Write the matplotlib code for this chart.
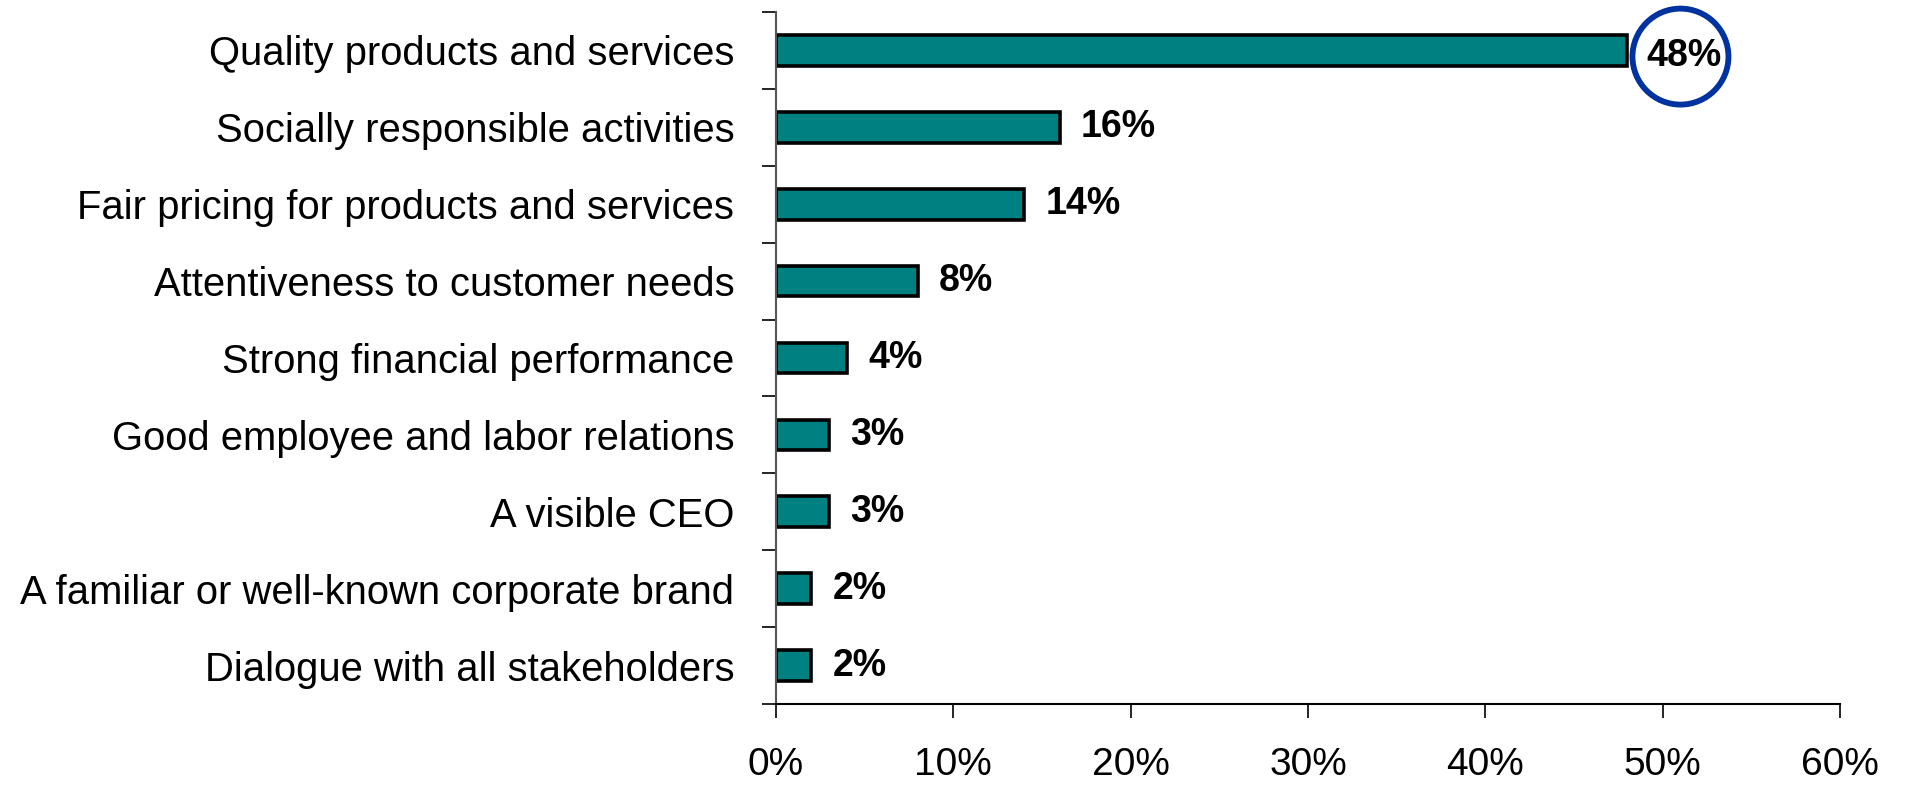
import matplotlib.pyplot as plt
from matplotlib.patches import Ellipse
import numpy as np

plt.rcParams['font.family'] = ['Liberation Sans', 'DejaVu Sans']

categories = [
    "Quality products and services",
    "Socially responsible activities",
    "Fair pricing for products and services",
    "Attentiveness to customer needs",
    "Strong financial performance",
    "Good employee and labor relations",
    "A visible CEO",
    "A familiar or well-known corporate brand",
    "Dialogue with all stakeholders",
]
values = [48, 16, 14, 8, 4, 3, 3, 2, 2]
xticks = [0, 10, 20, 30, 40, 50, 60]

fig = plt.figure(figsize=(19.08, 7.85), dpi=100)
ax = fig.add_axes([0.4067, 0.1032, 0.5577, 0.8815])

y = np.arange(len(categories))[::-1]
ax.barh(y, values, height=0.40, color='#008080', edgecolor='black', linewidth=2.6)

ax.set_xlim(0, 60)
ax.set_ylim(-0.5, len(categories) - 0.5)

# value labels; the top one sits inside a ring
for yi, v in zip(y, values):
    if v == max(values):
        ax.text(51.2, yi - 0.07, f"{v}%", ha='center', va='center', fontsize=27, fontweight='bold')
    else:
        ax.text(v + 1.2, yi, f"{v}%", ha='left', va='center', fontsize=27, fontweight='bold')

# ring drawn in pixel-true proportions
px_per_x = ax.get_position().width * fig.get_figwidth() * fig.dpi / 60
px_per_y = ax.get_position().height * fig.get_figheight() * fig.dpi / len(categories)
r = 48
ring = Ellipse((51.0, y[0] - 0.08), 2 * r / px_per_x, 2 * r / px_per_y,
               fill=False, edgecolor='#0033A0', linewidth=4.2, clip_on=False)
ax.add_patch(ring)

ax.set_xticks(xticks)
ax.set_xticklabels([f"{t}%" for t in xticks], fontsize=28)
ax.tick_params(axis='x', direction='out', length=10, width=1.2, pad=21)

ax.set_yticks(y)
ax.set_yticklabels(categories, fontsize=28.8)
ax.set_yticks(np.arange(len(categories) + 1) - 0.5, minor=True)
ax.tick_params(axis='y', which='major', length=0, pad=30)
ax.tick_params(axis='y', which='minor', direction='out', length=10, width=1.2)

for s in ['top', 'right']:
    ax.spines[s].set_visible(False)
ax.spines['left'].set_color('#555555')
ax.spines['left'].set_linewidth(1.5)
ax.spines['bottom'].set_linewidth(1.5)

fig.savefig('out.png', dpi=100)
